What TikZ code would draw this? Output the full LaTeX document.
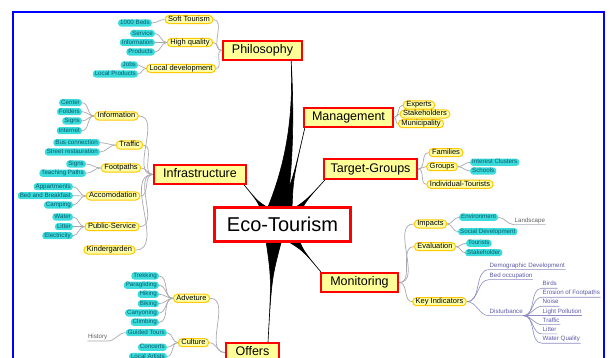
\documentclass[tikz,border=0pt]{standalone}
\usepackage{fontspec}
\setmainfont{Liberation Sans}
\usetikzlibrary{shapes.misc,calc}
\pgfdeclarelayer{bg}
\pgfsetlayers{bg,main}
\definecolor{boxyellow}{HTML}{FFFF99}
\definecolor{ellfill}{HTML}{FFFFA8}
\definecolor{ellborder}{HTML}{FFC800}
\definecolor{leafcyan}{HTML}{3CDCDC}
\definecolor{leaftext}{HTML}{0A5A6A}
\definecolor{indtext}{HTML}{5A5AA8}
\definecolor{connGray}{HTML}{A8A8B0}
\newcommand\mmspike[3]{\filldraw[black,line width=0.6pt] ($(#1)!#3!90:(#2)$) .. controls ($(#1)!0.4!(#2)$) .. (#2) .. controls ($(#1)!0.4!(#2)$) .. ($(#1)!#3!-90:(#2)$) -- cycle;}
\begin{document}
\begin{tikzpicture}[x=1pt,y=-1pt,
 mainbox/.style={draw=red, line width=2.4pt, fill=boxyellow, font=\fontsize{12.5}{13}\selectfont, inner sep=0pt, minimum height=18.6pt, text height=9pt, text depth=2.5pt},
 topic/.style={rounded rectangle, draw=ellborder, fill=ellfill, line width=1pt, inner xsep=1pt, inner ysep=0.5pt, font=\fontsize{7.5}{8}\selectfont, text height=5.5pt, text depth=1.6pt},
 leaf/.style={rectangle, rounded corners=3pt, fill=leafcyan, text=leaftext, inner xsep=2pt, inner ysep=0.6pt, font=\fontsize{6.2}{6.5}\selectfont, text height=4.6pt, text depth=1.3pt},
 ind/.style={text=indtext, inner xsep=0.5pt, inner ysep=0.8pt, font=\fontsize{6.2}{6.5}\selectfont, text height=4.6pt, text depth=1.3pt},
 histtext/.style={text=gray!75!black, inner xsep=0.5pt, inner ysep=0.8pt, font=\fontsize{6.2}{6.5}\selectfont, text height=4.6pt, text depth=1.3pt},
 conn/.style={draw=connGray, line width=0.7pt},
 iconn/.style={draw=indtext!70, line width=0.6pt},
]
\useasboundingbox (0,0) rectangle (611,358);
\clip (0,0) rectangle (611,358);

% ---------- central topic ----------
\node[draw=red, line width=3pt, fill=white, minimum width=136, minimum height=34, inner sep=0pt, font=\fontsize{20}{22}\selectfont] (eco) at (282.5,224.5) {Eco-Tourism};

% ---------- main topics ----------
\node[mainbox, minimum width=79] (philo) at (262.5,50.5) {Philosophy};
\node[mainbox, minimum width=92] (infra) at (200,174.5) {Infrastructure};
\node[mainbox, minimum width=53] (offers) at (252.5,352.5) {Offers};
\node[mainbox, minimum width=89] (mgmt) at (348.5,117.5) {Management};
\node[mainbox, minimum width=93, minimum height=19.6] (target) at (370.5,169) {Target-Groups};
\node[mainbox, minimum width=77] (monit) at (359.5,282.5) {Monitoring};

% ---------- Philosophy ----------
\node[topic] (soft) at (189,19.5) {Soft Tourism};
\node[topic] (high) at (190,42.5) {High quality};
\node[topic] (locdev) at (181,68.5) {Local development};
\node[leaf, anchor=east] (beds) at (152,23) {1000 Beds};
\node[leaf, anchor=east] (service) at (155,33.5) {Service};
\node[leaf, anchor=east] (pinfo) at (155,42.5) {Information};
\node[leaf, anchor=east] (products) at (155,52) {Products};
\node[leaf, anchor=east] (jobs) at (138,65) {Jobs};
\node[leaf, anchor=east] (locprod) at (138,74) {Local Products};

% ---------- Infrastructure ----------
\node[topic] (iinfo) at (116.5,116) {Information};
\node[topic] (traffic) at (129.5,145) {Traffic};
\node[topic] (foot) at (121,168) {Footpaths};
\node[topic] (accom) at (113,196) {Accomodation};
\node[topic] (pubserv) at (112,226.7) {Public-Service};
\node[topic] (kinder) at (109.5,250) {Kindergarden};
\foreach \n/\y/\t in {center/102.7/Center, folders/111.7/Folders, signsA/121/Signs, internet/130.7/Internet}
  \node[leaf, anchor=east] (\n) at (82,\y) {\t};
\foreach \n/\y/\t in {bus/142.7/Bus connection, street/152/Street restauration}
  \node[leaf, anchor=east] (\n) at (100,\y) {\t};
\foreach \n/\y/\t in {signsB/164/Signs, teach/173.3/Teaching Paths}
  \node[leaf, anchor=east] (\n) at (86,\y) {\t};
\foreach \n/\y/\t in {appart/186.7/Appartments, bnb/195.7/Bed and Breakfast, camping/205/Camping, water/217/Water, litterA/226.7/Litter, elec/235.7/Electricity}
  \node[leaf, anchor=east] (\n) at (73,\y) {\t};

% ---------- Offers ----------
\node[topic] (adv) at (191.5,298.3) {Adveture};
\node[topic] (culture) at (193.5,342.7) {Culture};
\foreach \n/\y/\t in {trek/276/Trekking, para/285.3/Paragliding, hiking/294.3/Hiking, biking/303.7/Biking, canyon/313/Canyoning, climb/322.3/Climbing}
  \node[leaf, anchor=east] (\n) at (159,\y) {\t};
\foreach \n/\y/\t in {guided/332.7/Guided Tours, concerts/347.3/Concerts, artists/356.5/Local Artists}
  \node[leaf, anchor=east] (\n) at (167,\y) {\t};
\node[histtext, anchor=east] (history) at (108,337) {History};

% ---------- Management ----------
\node[topic] (experts) at (419,105) {Experts};
\node[topic] (stake) at (425,114) {Stakeholders};
\node[topic] (munic) at (421,123.7) {Municipality};

% ---------- Target-Groups ----------
\node[topic] (families) at (446,152.7) {Families};
\node[topic] (groups) at (442,166.7) {Groups};
\node[topic] (indiv) at (460,184.3) {Individual-Tourists};
\node[leaf, anchor=west] (interest) at (470,162.3) {Interest Clusters};
\node[leaf, anchor=west] (schools) at (470,171) {Schools};

% ---------- Monitoring ----------
\node[topic] (impacts) at (430.5,224) {Impacts};
\node[topic] (evaluation) at (435,246.7) {Evaluation};
\node[topic] (keyind) at (439.5,301.7) {Key Indicators};
\node[leaf, anchor=west] (env) at (459,217.3) {Environment};
\node[leaf, anchor=west] (social) at (458,231.7) {Social Development};
\node[histtext, anchor=west] (landscape) at (514,220.7) {Landscape};
\node[leaf, anchor=west] (tourists) at (466,243.3) {Tourists};
\node[leaf, anchor=west] (stakeh) at (465,252.7) {Stakeholder};
\node[ind, anchor=west] (demo) at (489,265.7) {Demographic Development};
\node[ind, anchor=west] (bedocc) at (489,275.7) {Bed occupation};
\node[ind, anchor=west] (disturb) at (489,311.7) {Disturbance};
\begin{scope}
\clip (0,0) rectangle (603,358);
\foreach \n/\y/\t in {birds/284.3/Birds, erosion/293.3/Erosion of Footpaths, noise/302.3/Noise, light/311.7/Light Pollution, trafficB/320.7/Traffic, litterB/330/Litter, waterq/339.3/Water Quality}{
  \node[ind, anchor=west] (\n) at (542,\y) {\t};
  \draw[iconn] (disturb.south east) to[out=0,in=180] (\n.south west) -- (\n.south east);
}
\end{scope}

% ---------- background: spikes and connectors ----------
\begin{pgfonlayer}{bg}
\coordinate (tipP) at ($(philo.south east)+(-12,0)$);
\coordinate (tipI) at ($(infra.south east)+(-3,0)$);
\coordinate (tipM) at ($(mgmt.south west)+(2,0)$);
\coordinate (tipT) at ($(target.south west)+(3,-1)$);
\coordinate (tipMo) at ($(monit.north west)+(2,1)$);
\coordinate (tipO) at ($(offers.north)+(15.5,0)$);
\coordinate (hubI) at (268,214);
\coordinate (hubM) at (285,214);
\coordinate (hubT) at (292,216);
\coordinate (hubMo) at (290,235);
\coordinate (hubO) at (274,235);
\filldraw[black,line width=0.6pt] (tipP) .. controls ($(tipP)+(2,55)$) and ($(tipP)+(-4,100)$) .. (266,212) -- (286,212) .. controls ($(tipP)+(2,105)$) and ($(tipP)+(3,55)$) .. (tipP);
\mmspike{hubI}{tipI}{6pt}
\mmspike{hubM}{tipM}{7pt}
\mmspike{hubT}{tipT}{6pt}
\mmspike{hubMo}{tipMo}{7pt}
\mmspike{hubO}{tipO}{9pt}

% Philosophy
\foreach \c in {soft,high,locdev} \draw[conn] (philo.west) to[out=180,in=0] (\c.east);
\draw[conn] (soft.west) to[out=180,in=0] (beds.east);
\foreach \c in {service,pinfo,products} \draw[conn] (high.west) to[out=180,in=0] (\c.east);
\foreach \c in {jobs,locprod} \draw[conn] (locdev.west) to[out=180,in=0] (\c.east);
% Infrastructure
\foreach \c in {iinfo,traffic,foot,accom,pubserv,kinder} \draw[conn] (infra.west) to[out=180,in=0] (\c.east);
\foreach \c in {center,folders,signsA,internet} \draw[conn] (iinfo.west) to[out=180,in=0] (\c.east);
\foreach \c in {bus,street} \draw[conn] (traffic.west) to[out=180,in=0] (\c.east);
\foreach \c in {signsB,teach} \draw[conn] (foot.west) to[out=180,in=0] (\c.east);
\foreach \c in {appart,bnb,camping} \draw[conn] (accom.west) to[out=180,in=0] (\c.east);
\foreach \c in {water,litterA,elec} \draw[conn] (pubserv.west) to[out=180,in=0] (\c.east);
% Offers
\foreach \c in {adv,culture} \draw[conn] (offers.west) to[out=180,in=0] (\c.east);
\foreach \c in {trek,para,hiking,biking,canyon,climb} \draw[conn] (adv.west) to[out=180,in=0] (\c.east);
\foreach \c in {guided,concerts,artists} \draw[conn] (culture.west) to[out=180,in=0] (\c.east);
\draw[conn] (guided.west) to[out=180,in=0] (history.south east) -- (history.south west);
% Management
\foreach \c in {experts,stake,munic} \draw[conn] (mgmt.east) to[out=0,in=180] (\c.west);
% Target-Groups
\foreach \c in {families,groups,indiv} \draw[conn] (target.east) to[out=0,in=180] (\c.west);
\foreach \c in {interest,schools} \draw[conn] (groups.east) to[out=0,in=180] (\c.west);
% Monitoring
\foreach \c in {impacts,evaluation,keyind} \draw[conn] (monit.east) to[out=0,in=180] (\c.west);
\foreach \c in {env,social} \draw[conn] (impacts.east) to[out=0,in=180] (\c.west);
\draw[conn] (env.east) to[out=0,in=180] (landscape.south west) -- (landscape.south east);
\foreach \c in {tourists,stakeh} \draw[conn] (evaluation.east) to[out=0,in=180] (\c.west);
\foreach \c in {demo,bedocc,disturb} \draw[iconn] (keyind.east) to[out=0,in=180] (\c.south west) -- (\c.south east);
\end{pgfonlayer}

% ---------- frame ----------
\draw[blue, line width=2.6pt] (13,12) rectangle (604,380);
\end{tikzpicture}
\end{document}
